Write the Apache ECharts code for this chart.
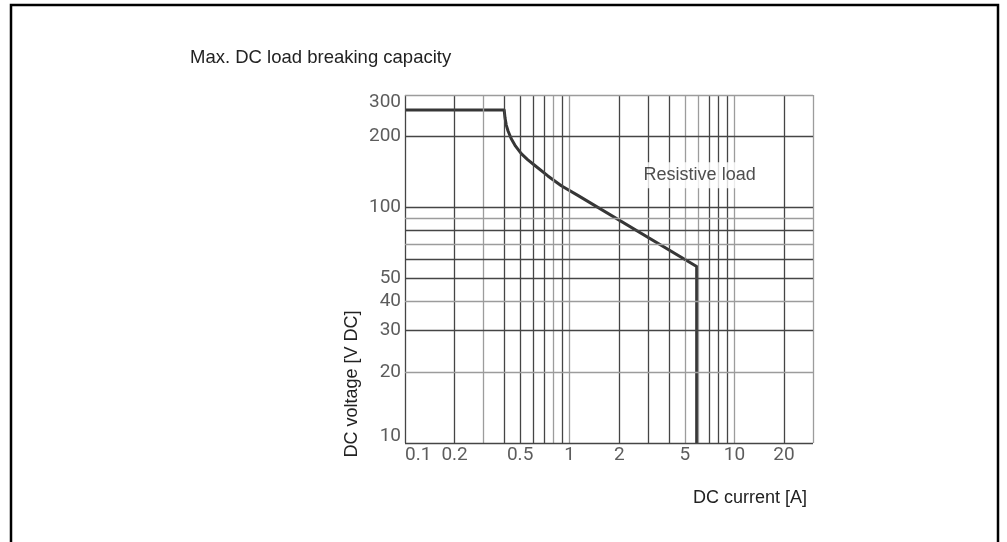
<!DOCTYPE html>
<html>
<head>
<meta charset="utf-8">
<script src="https://cdn.jsdelivr.net/npm/echarts@6.0.0/dist/echarts.min.js"></script>
<style>
html, body { margin: 0; padding: 0; background: #fff; }
#chart { width: 1007px; height: 542px; }
</style>
</head>
<body>
<div id="chart"></div>
<script>
// curve: DC current [A] vs DC voltage [V DC]
const currentA = [0.1, 0.4, 0.405, 0.412, 0.4224, 0.441, 0.469, 0.508, 0.555, 0.612, 0.737, 0.889, 1.12, 5.9, 5.9]
const voltage = [259, 259, 239.5, 223.5, 211, 196, 182, 169, 159.5, 151, 136, 123.5, 112.5, 56.1, 10]

const xMin = 0.1, xMax = 30
const yMin = 10, yMax = 300

const xTickLabels = [0.1, 0.2, 0.5, 1, 2, 5, 10, 20]
const yTickLabels = [10, 20, 30, 40, 50, 100, 200, 300]

// grid lines, the light ones look grey on the scan
const xGridLines = [0.1, 0.2, 0.3, 0.4, 0.5, 0.6, 0.7, 0.8, 0.9, 1, 2, 3, 4, 5, 6, 7, 8, 9, 10, 20, 30]
const yGridLines = [10, 20, 30, 40, 50, 60, 70, 80, 90, 100, 200, 300]
const xLightLines = [0.3, 0.8, 1, 5, 6, 10, 30]
const yLightLines = [20, 40, 70, 90, 300]

const noteText = 'Resistive load'
const notePoint = [6.15, 137]

const dark = '#454545'
const light = '#9c9c9c'
const tickFont = "Roboto, 'DejaVu Sans Condensed', sans-serif"
const textFont = "'Liberation Sans', Arial, sans-serif"

const chart = echarts.init(document.getElementById('chart'))

const gridData = []
xGridLines.forEach(v => {
  gridData.push({ xAxis: v, lineStyle: { color: xLightLines.includes(v) ? light : dark } })
})
yGridLines.forEach(v => {
  gridData.push({ yAxis: v, lineStyle: { color: yLightLines.includes(v) ? light : dark } })
})

const xLabelData = xTickLabels.map((v, i) => {
  const item = { value: [v, yMin] }
  if (i === 0) item.label = { align: 'left' }
  return item
})
const yLabelData = yTickLabels.map(v => {
  const item = { value: [xMin, v] }
  if (v === yMin) item.label = { verticalAlign: 'bottom', offset: [0, 3] }
  if (v === yMax) item.label = { verticalAlign: 'top', offset: [0, -2] }
  return item
})

const option = {
  animation: false,
  backgroundColor: '#fff',
  title: {
    text: 'Max. DC load breaking capacity',
    left: 185,
    top: 43,
    textStyle: { fontFamily: textFont, fontSize: 18.5, fontWeight: 'normal', color: '#222' }
  },
  grid: { left: 405, right: 194, top: 95, bottom: 99 },
  xAxis: {
    type: 'log',
    logBase: 10,
    min: xMin,
    max: xMax,
    axisLine: { show: false },
    axisTick: { show: false },
    axisLabel: { show: false },
    splitLine: { show: false }
  },
  yAxis: {
    type: 'log',
    logBase: 10,
    min: yMin,
    max: yMax,
    axisLine: { show: false },
    axisTick: { show: false },
    axisLabel: { show: false },
    splitLine: { show: false }
  },
  graphic: [
    {
      type: 'rect',
      shape: { x: 11, y: 5, width: 987, height: 600 },
      style: { fill: 'none', stroke: '#000', lineWidth: 2.5 },
      silent: true
    },
    {
      type: 'text',
      x: 352,
      y: 384,
      rotation: Math.PI / 2,
      style: {
        text: 'DC voltage [V DC]',
        font: '18px ' + textFont,
        fill: '#222',
        align: 'center',
        verticalAlign: 'middle'
      }
    },
    {
      type: 'text',
      x: 807,
      y: 498,
      style: {
        text: 'DC current [A]',
        font: '18px ' + textFont,
        fill: '#222',
        align: 'right',
        verticalAlign: 'middle'
      }
    }
  ],
  series: [
    {
      name: 'grid',
      type: 'scatter',
      z: 1,
      silent: true,
      symbolSize: 0,
      data: [[xMin, yMin]],
      markLine: {
        silent: true,
        symbol: 'none',
        label: { show: false },
        lineStyle: { type: 'solid', width: 1.3 },
        data: gridData
      }
    },
    {
      name: 'Resistive load',
      type: 'line',
      z: 3,
      silent: true,
      showSymbol: false,
      symbol: 'none',
      data: currentA.map((x, i) => [x, voltage[i]]),
      lineStyle: { color: '#363636', width: 3, join: 'round' }
    },
    {
      name: 'xLabels',
      type: 'scatter',
      z: 4,
      silent: true,
      clip: false,
      symbolSize: 0,
      data: xLabelData,
      label: {
        show: true,
        position: 'bottom',
        distance: 3,
        fontFamily: tickFont,
        fontSize: 19,
        color: '#333',
        formatter: p => String(p.value[0])
      }
    },
    {
      name: 'yLabels',
      type: 'scatter',
      z: 4,
      silent: true,
      clip: false,
      symbolSize: 0,
      data: yLabelData,
      label: {
        show: true,
        position: 'left',
        distance: 4,
        fontFamily: tickFont,
        fontSize: 19,
        color: '#333',
        formatter: p => String(p.value[1])
      }
    },
    {
      name: 'note',
      type: 'scatter',
      z: 5,
      silent: true,
      symbolSize: 0,
      data: [notePoint],
      label: {
        show: true,
        position: 'inside',
        formatter: noteText,
        fontFamily: textFont,
        fontSize: 18,
        color: '#222',
        backgroundColor: '#fff',
        padding: [4, 6]
      }
    }
  ]
}

chart.setOption(option)
window.addEventListener('resize', () => chart.resize())
</script>
</body>
</html>
